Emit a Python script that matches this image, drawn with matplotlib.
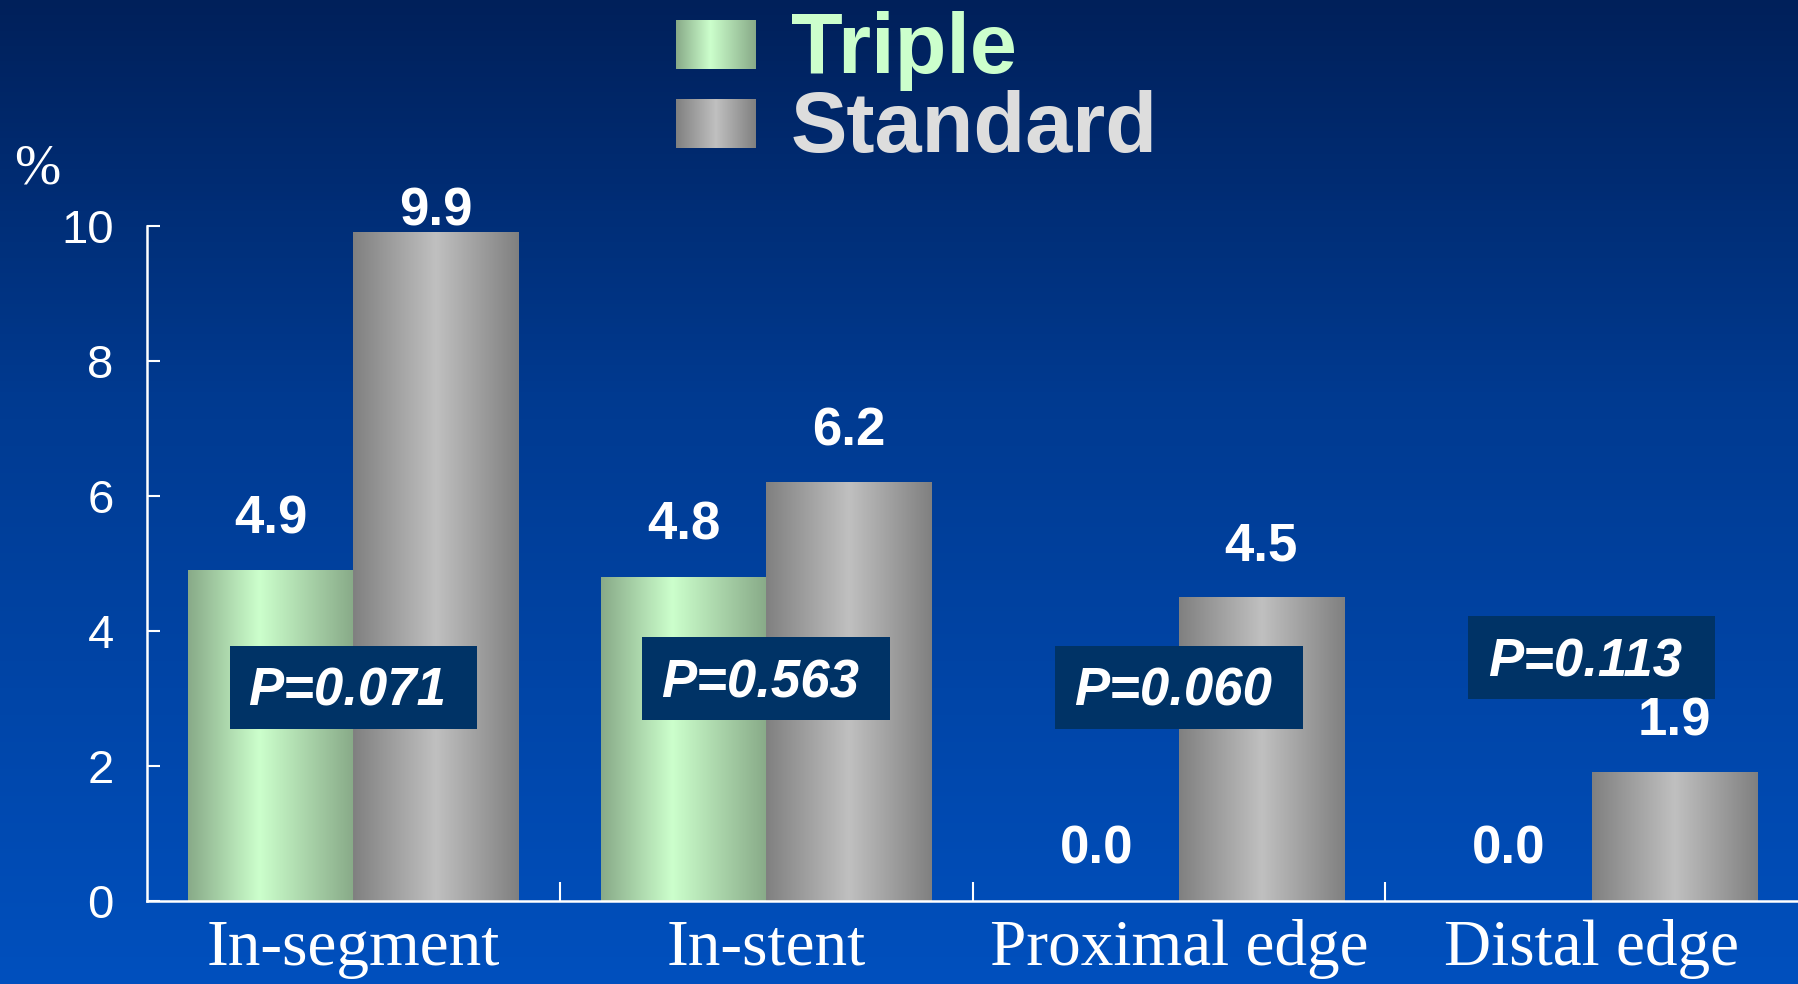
import matplotlib.pyplot as plt
import numpy as np
from matplotlib.colors import LinearSegmentedColormap
from matplotlib.patches import Rectangle

# restenosis rates (%) by analysis segment
categories = ['In-segment', 'In-stent', 'Proximal edge', 'Distal edge']
triple = [4.9, 4.8, 0.0, 0.0]
standard = [9.9, 6.2, 4.5, 1.9]
p_values = ['P=0.071', 'P=0.563', 'P=0.060', 'P=0.113']
series_names = ['Triple', 'Standard']
y_ticks = [0, 2, 4, 6, 8, 10]

# where the p-value boxes sit (data units)
p_box_y = [3.17, 3.30, 3.17, 3.61]

W, H = 1798, 984
fig = plt.figure(figsize=(W / 100, H / 100), dpi=100)

# background: dark navy at the top fading to bright blue at the bottom
bg = fig.add_axes([0, 0, 1, 1], zorder=-10)
bg_cmap = LinearSegmentedColormap.from_list(
    'bg', [(0, '#00205A'), (0.4, '#003A90'), (1, '#0050BE')])
bg.imshow(np.linspace(0, 1, 256).reshape(-1, 1), cmap=bg_cmap, aspect='auto',
          extent=[0, 1, 1, 0])
bg.axis('off')

green_cmap = LinearSegmentedColormap.from_list(
    'green', [(0, '#88AA88'), (0.43, '#CCFFCC'), (1, '#88AA88')])
grey_cmap = LinearSegmentedColormap.from_list(
    'grey', [(0, '#808080'), (0.5, '#C0C0C0'), (1, '#808080')])
shade = np.linspace(0, 1, 256).reshape(1, -1)

ax = fig.add_axes([147 / W, 83 / H, 1 - 147 / W, 675 / H])
ax.patch.set_alpha(0)

x = np.arange(len(categories))
bw = 0.4
for offset, vals, cmap in [(-bw / 2, triple, green_cmap), (bw / 2, standard, grey_cmap)]:
    bars = ax.bar(x + offset, vals, bw, facecolor='none', edgecolor='none')
    for b in bars:
        if b.get_height() > 0:
            ax.imshow(shade, cmap=cmap, aspect='auto', zorder=2,
                      extent=[b.get_x(), b.get_x() + b.get_width(), 0, b.get_height()])
    for xi, v in zip(x + offset, vals):
        ax.text(xi, min(v + 0.55, 10.0), f'{v:.1f}', ha='center', va='baseline',
                color='white', fontsize=38, fontweight='bold',
                family='Liberation Sans', zorder=5)

# p-value boxes
for xi, p, yc in zip(x, p_values, p_box_y):
    ax.add_patch(Rectangle((xi - 0.3, yc - 0.615), 0.6, 1.23,
                           facecolor='#003366', edgecolor='none', zorder=4))
    ax.text(xi - 0.015, yc - 0.28, p, ha='center', va='baseline', color='white',
            fontsize=38, fontweight='bold', fontstyle='italic',
            family='Liberation Sans', zorder=5)

ax.set_xlim(-0.5, len(categories) - 0.5)
ax.set_ylim(0, 10)
ax.set_yticks(y_ticks)
ax.set_xticks(x)
ax.set_xticklabels(categories, family='Liberation Serif', fontsize=47, color='white')
ax.set_xticks(x[:-1] + 0.5, minor=True)
ax.tick_params(axis='x', which='major', length=0, pad=13)
ax.tick_params(axis='x', which='minor', direction='in', length=14, width=1.5, color='white')
ax.tick_params(axis='y', direction='in', length=9, width=1.5, color='white',
               labelcolor='white', labelsize=34, pad=24)
for lbl in ax.get_yticklabels():
    lbl.set_family('Liberation Sans')
for s in ['top', 'right']:
    ax.spines[s].set_visible(False)
for s in ['left', 'bottom']:
    ax.spines[s].set_color('white')
    ax.spines[s].set_linewidth(1.8)

fig.text(37 / W, (H - 183) / H, '%', ha='center', va='baseline', color='white',
         fontsize=40, family='Liberation Serif')

# legend drawn by hand: gradient swatches and large coloured labels
for name, cmap, top, col in [(series_names[0], green_cmap, 20, '#CCFFCC'),
                             (series_names[1], grey_cmap, 99, '#DDDDDD')]:
    sw = fig.add_axes([676 / W, (H - top - 49) / H, 80 / W, 49 / H])
    sw.imshow(shade, cmap=cmap, aspect='auto')
    sw.axis('off')
    fig.text(791 / W, (H - top - 53) / H, name, ha='left', va='baseline', color=col,
             fontsize=61, fontweight='bold', family='Liberation Sans')

fig.savefig('out.png', dpi=100)
